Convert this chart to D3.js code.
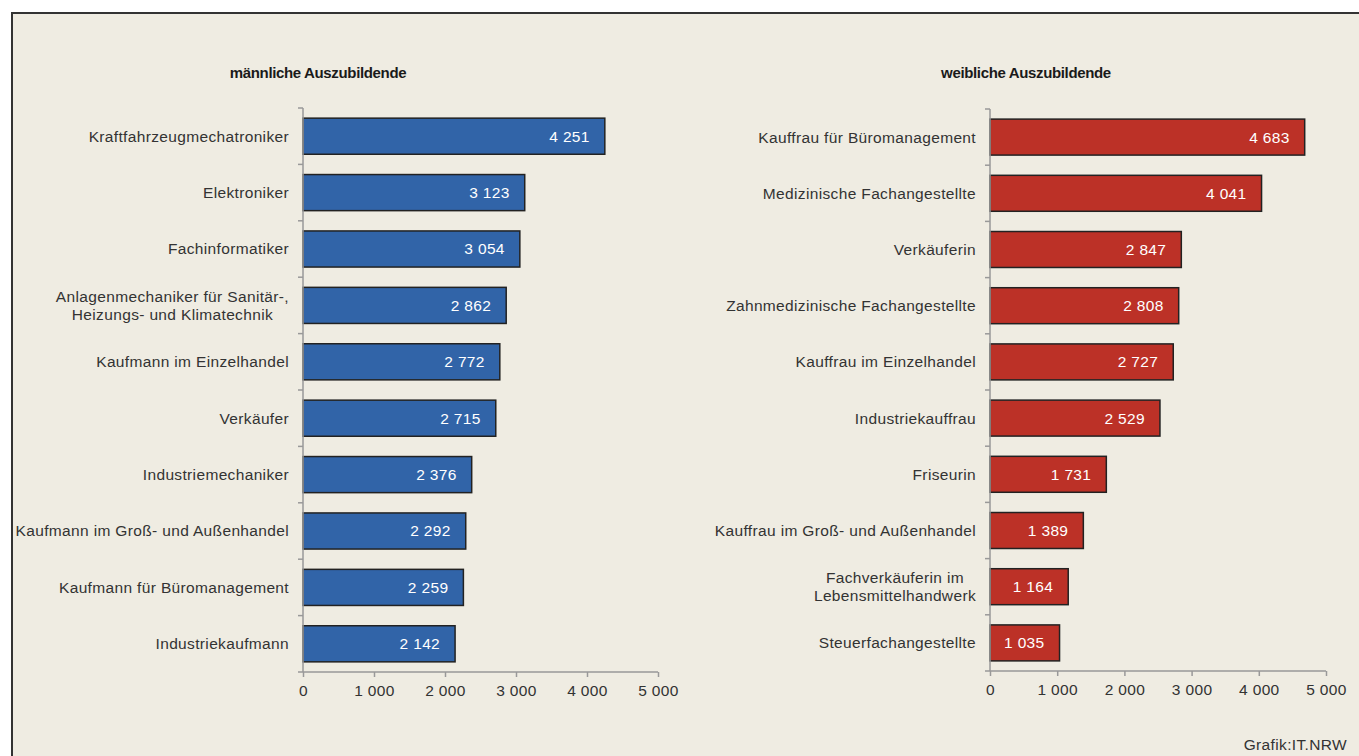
<!DOCTYPE html>
<html>
<head>
<meta charset="utf-8">
<script src="https://cdn.jsdelivr.net/npm/d3@7"></script>
<style>
  body { margin: 0; background: #fff; }
  svg { display: block; font-family: "Liberation Sans", Arial, sans-serif; }
  .txt { font-size: 15.5px; letter-spacing: 0.35px; }
</style>
</head>
<body>
<div id="chart"></div>
<script>
// data
const maleJobs = [
  "Kraftfahrzeugmechatroniker",
  "Elektroniker",
  "Fachinformatiker",
  "Anlagenmechaniker für Sanitär-,|Heizungs- und Klimatechnik",
  "Kaufmann im Einzelhandel",
  "Verkäufer",
  "Industriemechaniker",
  "Kaufmann im Groß- und Außenhandel",
  "Kaufmann für Büromanagement",
  "Industriekaufmann",
];
const maleValues = [4251, 3123, 3054, 2862, 2772, 2715, 2376, 2292, 2259, 2142];

const femaleJobs = [
  "Kauffrau für Büromanagement",
  "Medizinische Fachangestellte",
  "Verkäuferin",
  "Zahnmedizinische Fachangestellte",
  "Kauffrau im Einzelhandel",
  "Industriekauffrau",
  "Friseurin",
  "Kauffrau im Groß- und Außenhandel",
  "Fachverkäuferin im|Lebensmittelhandwerk",
  "Steuerfachangestellte",
];
const femaleValues = [4683, 4041, 2847, 2808, 2727, 2529, 1731, 1389, 1164, 1035];

const xTicks = [0, 1000, 2000, 3000, 4000, 5000];

const W = 1359, H = 756;
const fmt = (v) => d3.format(",")(v).replace(/,/g, " ");

const svg = d3.select("#chart").append("svg")
  .attr("width", W).attr("height", H);

// frame + background
svg.append("rect")
  .attr("x", 12).attr("y", 13)
  .attr("width", W).attr("height", H)
  .attr("fill", "#efece2")
  .attr("stroke", "#333").attr("stroke-width", 2);

// draw one panel
function drawPanel(cfg) {
  const data = cfg.jobs.map((j, i) => ({ job: j, value: cfg.values[i] }));

  const x = d3.scaleLinear().domain([0, 5000]).range([cfg.x0, cfg.x1]);
  const y = d3.scaleBand()
    .domain(cfg.jobs)
    .range([cfg.top, cfg.bottom])
    .paddingInner(0.36)
    .paddingOuter(0.18);

  const g = svg.append("g");

  // title
  g.append("text")
    .attr("x", cfg.titleX).attr("y", 78)
    .attr("text-anchor", "middle")
    .style("font-size", "15px").style("font-weight", "bold")
    .style("letter-spacing", "-0.35px")
    .attr("fill", "#1a1a1a")
    .text(cfg.title);

  // bars
  g.selectAll("rect.bar")
    .data(data)
    .join("rect")
    .attr("class", "bar")
    .attr("x", x(0))
    .attr("y", (d) => y(d.job))
    .attr("width", (d) => x(d.value) - x(0))
    .attr("height", y.bandwidth())
    .attr("fill", cfg.color)
    .attr("stroke", "#222")
    .attr("stroke-width", 1.5);

  // value labels
  g.selectAll("text.val")
    .data(data)
    .join("text")
    .attr("class", "val txt")
    .attr("x", (d) => x(d.value) - 15)
    .attr("y", (d) => y(d.job) + y.bandwidth() / 2)
    .attr("dy", "0.35em")
    .attr("text-anchor", "end")
    .attr("fill", "#fff")
    .text((d) => fmt(d.value));

  // category labels
  const lab = g.selectAll("text.cat")
    .data(data)
    .join("text")
    .attr("class", "cat txt")
    .attr("fill", "#333");
  lab.each(function (d) {
    const lines = d.job.split("|");
    const t = d3.select(this);
    const cy = y(d.job) + y.bandwidth() / 2;
    lines.forEach((ln, i) => {
      t.append("tspan")
        .attr("x", cfg.labelX)
        .attr("y", cy + (i - (lines.length - 1) / 2) * 18)
        .attr("dy", "0.35em")
        .attr("text-anchor", lines.length > 1 ? "middle" : "end")
        .text(ln);
    });
  });
  // multi-line labels are centred on their longest line, right edge at labelX
  lab.filter((d) => d.job.includes("|")).each(function () {
    const bb = this.getBBox();
    const shift = cfg.labelX - (bb.x + bb.width);
    d3.select(this).selectAll("tspan").attr("x", cfg.labelX + shift);
  });

  // y axis line + boundary ticks
  g.append("line")
    .attr("x1", x(0)).attr("x2", x(0))
    .attr("y1", cfg.top).attr("y2", cfg.bottom)
    .attr("stroke", "#999").attr("stroke-width", 1.5);
  const bounds = d3.range(cfg.jobs.length).map((i) => cfg.top + i * y.step());
  g.selectAll("line.ytick")
    .data(bounds)
    .join("line")
    .attr("class", "ytick")
    .attr("x1", x(0) - 5).attr("x2", x(0))
    .attr("y1", (d) => d).attr("y2", (d) => d)
    .attr("stroke", "#999").attr("stroke-width", 1.5);

  // x axis
  const xAxis = d3.axisBottom(x)
    .tickValues(xTicks)
    .tickSize(5)
    .tickSizeOuter(0)
    .tickFormat(fmt);
  const ax = g.append("g")
    .attr("transform", `translate(0, ${cfg.bottom})`)
    .call(xAxis);
  ax.select(".domain")
    .attr("d", `M${x(0) - 5},0H${x(5000)}`)
    .attr("stroke", "#999").attr("stroke-width", 1.5);
  ax.selectAll(".tick line").attr("stroke", "#999").attr("stroke-width", 1.5);
  ax.selectAll(".tick text")
    .attr("class", "txt")
    .attr("y", 13)
    .attr("fill", "#333")
    .style("font-family", "'Liberation Sans', Arial, sans-serif");
}

drawPanel({
  title: "männliche Auszubildende",
  titleX: 318,
  jobs: maleJobs,
  values: maleValues,
  color: "#3164a8",
  x0: 303, x1: 658,
  top: 108, bottom: 672,
  labelX: 289,
});

drawPanel({
  title: "weibliche Auszubildende",
  titleX: 1026,
  jobs: femaleJobs,
  values: femaleValues,
  color: "#bc3127",
  x0: 990, x1: 1326,
  top: 109, bottom: 671,
  labelX: 976,
});

// source note
svg.append("text")
  .attr("class", "txt")
  .attr("x", 1347).attr("y", 750)
  .attr("text-anchor", "end")
  .attr("fill", "#333")
  .text("Grafik:IT.NRW");
</script>
</body>
</html>
